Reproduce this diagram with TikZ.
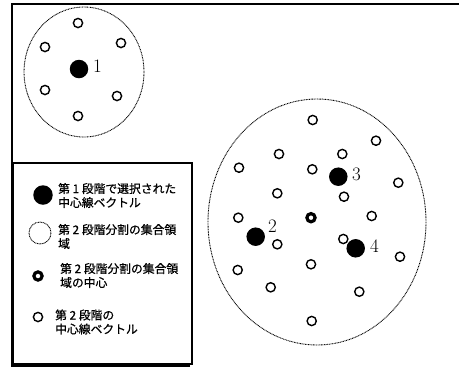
\documentclass[tikz,border=0pt]{standalone}
\usepackage{fontspec}
\newfontfamily\cjk[FakeBold=0.8]{Noto Sans CJK JP}
\begin{document}
\begin{tikzpicture}[x=1pt,y=-1pt,
  vsmall/.style={circle,draw,line width=1.4pt,minimum size=9.2pt,inner sep=0pt},
  vbig/.style={circle,fill=black,minimum size=18.5pt,inner sep=0pt},
  vring/.style={circle,draw,line width=3.2pt,minimum size=8.2pt,inner sep=0pt},
  region/.style={draw,line width=0.9pt,dash pattern=on 0.9pt off 0.7pt},
  numlab/.style={font=\fontsize{19}{19}\selectfont,inner sep=0pt},
  legtxt/.style={font=\cjk\fontsize{11.8}{14}\selectfont,align=left,anchor=west,inner sep=0pt}]
\useasboundingbox (0,0) rectangle (459,368);
% outer frame
\coordinate (fa) at (12,366);
\coordinate (fb) at (12,4);
\coordinate (fc) at (459,4);
\coordinate (fd) at (190,366);
\draw[line width=1.6pt] (fd) -- (fa) -- (fb) -- (fc);
% first region
\draw[region] (84,72) ellipse [x radius=60, y radius=65];
\node[vbig] (p1) at (79,69) {};
\node[numlab,anchor=west] (l1) at (93,66) {1};
\node[vsmall] (a1) at (78,23) {};
\node[vsmall] (a2) at (45,47) {};
\node[vsmall] (a3) at (121,43) {};
\node[vsmall] (a4) at (45,90) {};
\node[vsmall] (a5) at (117,96) {};
\node[vsmall] (a6) at (78,116) {};
% second region
\draw[region] (317,222) ellipse [x radius=109, y radius=123];
\node[vsmall] (b1) at (312.7,120) {};
\node[vsmall] (b2) at (376,140.7) {};
\node[vsmall] (b3) at (279,154) {};
\node[vsmall] (b4) at (342.3,154) {};
\node[vsmall] (b5) at (239,167.7) {};
\node[vsmall] (b6) at (312.3,169.3) {};
\node[vsmall] (b7) at (398.3,182.7) {};
\node[vsmall] (b8) at (277.3,193.3) {};
\node[vsmall] (b9) at (344,196.7) {};
\node[vsmall] (b10) at (238.3,217.7) {};
\node[vsmall] (b11) at (371.7,216) {};
\node[vsmall] (b12) at (277.3,244.3) {};
\node[vsmall] (b13) at (343.3,239) {};
\node[vsmall] (b14) at (311,264.3) {};
\node[vsmall] (b15) at (400,256.7) {};
\node[vsmall] (b16) at (237.7,270) {};
\node[vsmall] (b17) at (270.7,287.3) {};
\node[vsmall] (b18) at (359.3,291.7) {};
\node[vsmall] (b19) at (311.7,321) {};
\node[vring] (c0) at (311,217.7) {};
\node[vbig] (p3) at (338.3,176.7) {};
\node[numlab,anchor=west] (l3) at (352,174) {3};
\node[vbig] (p2) at (255.7,236.7) {};
\node[numlab,anchor=west] (l2) at (268,226) {2};
\node[vbig] (p4) at (355.7,248.3) {};
\node[numlab,anchor=west] (l4) at (370,246.5) {4};
% legend
\draw[line width=1.6pt] (13,163) rectangle (192,364);
\node[vbig,minimum size=19.5pt] (k1) at (43,195) {};
\node[legtxt] (t1) at (58,195.5) {第 1 段階で選択された\\中心線ベクトル};
\draw[region] (40,233) circle [radius=11];
\node[legtxt] (t2) at (58,236.5) {第 2 段階分割の集合領\\域};
\node[vring] (k3) at (38,276) {};
\node[legtxt] (t3) at (60,275.5) {第 2 段階分割の集合領\\域の中心};
\node[vsmall] (k4) at (38,317) {};
\node[legtxt] (t4) at (55,322) {第 2 段階の\\中心線ベクトル};
\end{tikzpicture}
\end{document}
